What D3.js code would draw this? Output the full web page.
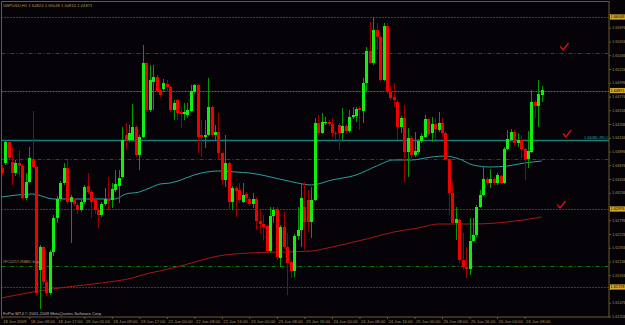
<!DOCTYPE html>
<html><head><meta charset="utf-8">
<script src="https://cdn.jsdelivr.net/npm/d3@7/dist/d3.min.js"></script>
<style>html,body{margin:0;padding:0;background:#050308;overflow:hidden}svg{display:block}</style>
</head><body><svg id="c" width="625" height="325"></svg>
<script>
// ---------------- DATA ----------------
const symbolTitle = "GBPUSD,H1  1.64824 1.65048 1.64810 1.64871";
const copyrightText = "FxPro MT4 \u00a9 2001-2009 MetaQuotes Software Corp.";

const openP = [
1.63632,1.63712,1.64048,1.63728,1.63552,1.63712,1.63664,1.63152,1.63408,1.63776,
1.63648,1.62000,1.62368,1.61808,1.61632,1.62288,1.62832,1.63136,1.63392,1.63632,
1.63088,1.63120,1.63040,1.62960,1.63088,1.63344,1.63248,1.63136,1.62960,1.62880,
1.63056,1.63136,1.63120,1.63280,1.63344,1.63488,1.64160,1.64080,1.64080,1.64288,
1.63840,1.64128,1.65312,1.64560,1.65008,1.65088,1.64880,1.64896,1.64976,1.64928,
1.64560,1.64720,1.64528,1.64496,1.64480,1.64544,1.64848,1.64960,1.64160,1.64128,
1.64160,1.64608,1.64160,1.64208,1.63872,1.63440,1.63712,1.63088,1.63312,1.63280,
1.63088,1.63216,1.63136,1.63056,1.63136,1.62784,1.62736,1.62704,1.62304,1.62864,
1.62976,1.62192,1.62688,1.62368,1.62128,1.61984,1.62544,1.62640,1.63008,1.63120,
1.62768,1.63120,1.64352,1.64192,1.64352,1.64368,1.64336,1.64192,1.64320,1.64192,
1.64304,1.64224,1.64448,1.64464,1.64592,1.64544,1.64992,1.65504,1.65312,1.65840,
1.65728,1.65040,1.65904,1.64848,1.64768,1.64688,1.64288,1.64432,1.63888,1.64112,
1.63840,1.63888,1.64064,1.64128,1.64416,1.64192,1.64336,1.64240,1.64352,1.64192,
1.63776,1.63232,1.62752,1.62800,1.62160,1.62048,1.62016,1.62464,1.62560,1.63008,
1.63200,1.63456,1.63392,1.63456,1.63392,1.63504,1.63392,1.63936,1.64080,1.64208,
1.64032,1.64080,1.63936,1.63776,1.63888,1.64688,1.64624,1.64800];

const highP = [
1.63680,1.64080,1.64064,1.63952,1.63760,1.63920,1.63696,1.63552,1.63968,1.64544,
1.63664,1.62400,1.62384,1.61840,1.62320,1.62880,1.63184,1.63424,1.63712,1.63760,
1.63200,1.63152,1.63072,1.63120,1.63360,1.63552,1.63280,1.63168,1.62992,1.63088,
1.63312,1.63488,1.63392,1.63600,1.63600,1.64288,1.64352,1.64320,1.64656,1.64320,
1.64160,1.65600,1.65328,1.65280,1.65280,1.65120,1.64912,1.65056,1.65040,1.64944,
1.64720,1.64736,1.64608,1.64672,1.64672,1.64960,1.64976,1.64976,1.64400,1.64400,
1.65072,1.64624,1.64320,1.64512,1.63888,1.64160,1.63728,1.63344,1.63344,1.63392,
1.63392,1.63248,1.63168,1.63232,1.63168,1.62960,1.62880,1.62720,1.63008,1.63008,
1.63008,1.62720,1.62928,1.62592,1.62160,1.62576,1.63008,1.63392,1.63408,1.63280,
1.63328,1.64432,1.64480,1.64512,1.64448,1.64400,1.64432,1.64224,1.64352,1.64592,
1.64336,1.64560,1.64608,1.64608,1.64624,1.65072,1.65568,1.65968,1.66048,1.65952,
1.65744,1.65952,1.65952,1.64960,1.64992,1.64720,1.64464,1.64640,1.64272,1.64144,
1.64208,1.64096,1.64192,1.64480,1.64432,1.64448,1.64432,1.64528,1.64432,1.64208,
1.63792,1.63408,1.63008,1.62832,1.62592,1.62368,1.62832,1.62832,1.63040,1.63280,
1.63664,1.63488,1.63616,1.63488,1.63552,1.63520,1.63968,1.64240,1.64256,1.64240,
1.64192,1.64160,1.63952,1.64224,1.64880,1.64720,1.65040,1.64944];

const lowP = [
1.63520,1.63680,1.63760,1.63360,1.63504,1.63488,1.63136,1.63120,1.63392,1.63632,
1.61584,1.61376,1.61760,1.61584,1.61600,1.62224,1.62752,1.63104,1.63360,1.63056,
1.62432,1.63024,1.62896,1.62928,1.63056,1.63216,1.62832,1.62896,1.62672,1.62848,
1.63024,1.62960,1.62992,1.63248,1.63072,1.63472,1.63920,1.64048,1.64064,1.63808,
1.63600,1.64112,1.64528,1.64528,1.64560,1.64832,1.64768,1.64848,1.64848,1.64528,
1.64400,1.64400,1.64272,1.64400,1.64432,1.64528,1.64816,1.63872,1.63808,1.63952,
1.64144,1.64128,1.64080,1.63760,1.63360,1.63328,1.62960,1.62960,1.62848,1.63072,
1.63072,1.63072,1.63024,1.62992,1.62640,1.62592,1.62480,1.62256,1.62272,1.62752,
1.62160,1.62048,1.62336,1.61600,1.61872,1.61888,1.62480,1.62368,1.62320,1.62608,
1.62512,1.63104,1.64160,1.64176,1.64320,1.64304,1.64128,1.64080,1.63920,1.64080,
1.64192,1.64192,1.64416,1.64368,1.64240,1.64352,1.64848,1.65296,1.65280,1.65520,
1.65008,1.65024,1.64816,1.64720,1.64608,1.64080,1.64192,1.63408,1.63488,1.63760,
1.63808,1.63856,1.64032,1.64112,1.64144,1.64048,1.64080,1.64208,1.64128,1.63760,
1.62880,1.62736,1.62480,1.62112,1.62000,1.61872,1.61920,1.62448,1.62528,1.62992,
1.63184,1.63360,1.63312,1.63360,1.63360,1.63376,1.63376,1.63920,1.64064,1.64000,
1.63968,1.63792,1.63440,1.63632,1.63872,1.64432,1.64288,1.64688];

const closeP = [
1.63552,1.64048,1.63792,1.63552,1.63712,1.63664,1.63152,1.63408,1.63792,1.63648,
1.61632,1.62368,1.61808,1.61632,1.62288,1.62832,1.63136,1.63392,1.63632,1.63088,
1.63168,1.63056,1.62960,1.63088,1.63328,1.63248,1.63088,1.62960,1.62880,1.63056,
1.63136,1.63104,1.63296,1.63376,1.63472,1.64080,1.64080,1.64192,1.64288,1.63840,
1.64128,1.65312,1.64560,1.65040,1.65088,1.64864,1.64800,1.64992,1.64928,1.64560,
1.64672,1.64512,1.64496,1.64528,1.64560,1.64864,1.64960,1.64128,1.64128,1.64160,
1.64608,1.64160,1.64208,1.63872,1.63440,1.63712,1.63088,1.63312,1.63264,1.63120,
1.63200,1.63152,1.63056,1.63136,1.62784,1.62736,1.62688,1.62304,1.62864,1.62960,
1.62208,1.62688,1.62368,1.62112,1.61984,1.62544,1.62640,1.63152,1.62768,1.62768,
1.63120,1.64352,1.64192,1.64368,1.64368,1.64336,1.64192,1.64176,1.64192,1.64304,
1.64224,1.64448,1.64480,1.64576,1.64560,1.64992,1.65504,1.65312,1.65840,1.65728,
1.65040,1.65904,1.64848,1.64752,1.64720,1.64288,1.64432,1.63888,1.64112,1.63840,
1.63904,1.64064,1.64144,1.64416,1.64176,1.64336,1.64256,1.64352,1.64192,1.63776,
1.63232,1.62752,1.62816,1.62160,1.62048,1.62016,1.62464,1.62560,1.63008,1.63200,
1.63456,1.63392,1.63456,1.63392,1.63520,1.63392,1.63936,1.64096,1.64208,1.64032,
1.64080,1.63936,1.63776,1.63904,1.64688,1.64624,1.64816,1.64880];

// moving averages (bar index, value)
const maTealBars = [0,9,15,25,33,36,40,43,46,49,58,63,68,72,82,86,90,96,103,109,114,119,125,129,133,137,142,147,152,157];
const maTealVals = [1.63168,1.63216,1.63136,1.63136,1.63136,1.63216,1.63248,1.63312,1.63376,1.63392,1.63552,1.63584,1.63568,1.63552,1.63440,1.63392,1.63360,1.63440,1.63520,1.63664,1.63760,1.63760,1.63808,1.63824,1.63776,1.63680,1.63648,1.63664,1.63712,1.63744];
const maRedBars = [0,9,19,29,38,43,46,53,63,72,82,90,96,106,114,121,127,133,137,147,157];
const maRedVals = [1.61552,1.61648,1.61728,1.61792,1.61872,1.61952,1.61984,1.62080,1.62224,1.62272,1.62288,1.62304,1.62368,1.62496,1.62608,1.62672,1.62736,1.62736,1.62736,1.62768,1.62848];

// horizontal levels
const levelPrices = [1.66048, 1.65472, 1.64871, 1.64080, 1.63776, 1.62976, 1.62070, 1.61728];
const tealLevelLabel = "1.64080 JRLC";
const greenLevelLabel = "#FC0257-RBBD buy";

// check-mark symbols (bar position, price)
const checkBars = [163.2, 164.0, 162.3];
const checkPrices = [1.65520, 1.64128, 1.62992];

// axis labels
const priceTicks = [1.66096,1.65876,1.65656,1.65436,1.65216,1.64996,1.64776,1.64556,1.64336,1.64116,1.63896,1.63676,1.63456,1.63236,1.63016,1.62796,1.62576,1.62356,1.62136,1.61916,1.61696,1.61476,1.61256];
const timeLabelBars = [0,8,16,24,32,40,48,56,64,72,80,88,96,104,112,120,128,136,144,152];
const timeLabels = ["18 Jun 2009","18 Jun 09:00","18 Jun 17:00","19 Jun 01:00","19 Jun 09:00","19 Jun 17:00","22 Jun 00:00","22 Jun 08:00","22 Jun 16:00","23 Jun 00:00","23 Jun 08:00","23 Jun 16:00","24 Jun 00:00","24 Jun 08:00","24 Jun 16:00","25 Jun 00:00","25 Jun 08:00","25 Jun 16:00","26 Jun 00:00","26 Jun 08:00"];

// ---------------- DRAW ----------------
const svg = d3.select("#c");
const FONT = "'Liberation Sans', Arial, sans-serif";
const AX = "#a89058", FRAME = "#6e5c24";
const L = 1.5, T = 1.5, R = 609, B = 317;

svg.append("rect").attr("width",625).attr("height",325).attr("fill","#050308");

const x = d3.scaleLinear().domain([0,157]).range([1.7, 1.7 + 3.44*157]);
const y = d3.scaleLinear().domain([1.61256, 1.66096]).range([316.5, 14]);

svg.append("defs").append("clipPath").attr("id","plot")
  .append("rect").attr("x",L).attr("y",T).attr("width",R-L).attr("height",B-T);
const g = svg.append("g").attr("clip-path","url(#plot)");

// level lines
const levelStyle = [
  {c:"#8a7a30", w:1, d:"1,2"},
  {c:"#a01414", w:1, d:"4,2,1,2"},
  {c:"#5b6a5b", w:1, d:"2,1"},
  {c:"#1c7d7d", w:1.6, d:null},
  {c:"#a01414", w:1, d:"4,2,1,2"},
  {c:"#8a7a30", w:1, d:"1,2"},
  {c:"#127a12", w:1, d:"4,2,1,2"},
  {c:"#8a7a30", w:1, d:"1,2"}
];
levelPrices.forEach((p,i)=>{
  const s = levelStyle[i];
  g.append("line").attr("x1",L).attr("x2",R).attr("y1",Math.round(y(p))+0.5).attr("y2",Math.round(y(p))+0.5)
   .attr("stroke",s.c).attr("stroke-width",s.w).attr("stroke-dasharray",s.d);
});

// moving averages
const lineGen = d3.line().x(d=>x(d[0])).y(d=>y(d[1])).curve(d3.curveMonotoneX);
g.append("path").attr("d", lineGen(maRedBars.map((b,i)=>[b,maRedVals[i]])))
  .attr("fill","none").attr("stroke","#a41818").attr("stroke-width",1);
g.append("path").attr("d", lineGen(maTealBars.map((b,i)=>[b,maTealVals[i]])))
  .attr("fill","none").attr("stroke","#2aa0a0").attr("stroke-width",1);

// candles
const bars = d3.range(openP.length).map(i=>({i,o:openP[i],h:highP[i],l:lowP[i],c:closeP[i]}));
const cg = g.append("g");
cg.selectAll("line.w").data(bars).enter().append("line")
  .attr("x1",d=>Math.round(x(d.i))+0.5).attr("x2",d=>Math.round(x(d.i))+0.5)
  .attr("y1",d=>y(d.h)).attr("y2",d=>y(d.l))
  .attr("stroke",d=>d.c>=d.o?"#009a00":"#9a0000").attr("stroke-width",1);
cg.selectAll("rect.b").data(bars).enter().append("rect")
  .attr("x",d=>Math.round(x(d.i))-1).attr("width",3)
  .attr("y",d=>y(Math.max(d.o,d.c)))
  .attr("height",d=>Math.max(1, Math.abs(y(d.o)-y(d.c))))
  .attr("fill",d=>d.c>=d.o?"#10f010":"#f00000");

// check marks
checkBars.forEach((b,i)=>{
  const cx = x(b), cy = y(checkPrices[i]);
  g.append("path").attr("d",`M${cx-2.8},${cy-3.5} L${cx},${cy} L${cx+5.5},${cy-7}`)
   .attr("fill","none").attr("stroke","#e01010").attr("stroke-width",1.3);
});

// level labels inside plot
g.append("text").attr("x",584).attr("y",y(levelPrices[3])-1.5).text(tealLevelLabel)
  .attr("font-family",FONT).attr("font-size",3.8).attr("fill","#2aa0a0");
g.append("text").attr("x",2.5).attr("y",y(levelPrices[6])-2.5).text(greenLevelLabel)
  .attr("font-family",FONT).attr("font-size",4).attr("fill",AX);

// frame
svg.append("rect").attr("x",L).attr("y",T).attr("width",R-L).attr("height",B-T)
  .attr("fill","none").attr("stroke",FRAME).attr("stroke-width",1);

// right axis (labels hidden where a highlighted price box covers them)
const boxed = [0,2,5,7].map(k=>levelPrices[k]);
const ya = svg.append("g").attr("transform",`translate(${R},0)`)
  .call(d3.axisRight(y).tickValues(priceTicks).tickSize(2).tickPadding(1)
    .tickFormat(v => boxed.some(p=>Math.abs(y(p)-y(v))<5) ? "" : d3.format(".5f")(v)));
ya.select(".domain").remove();
ya.selectAll("line").attr("stroke",FRAME);
ya.selectAll("text").attr("font-family",FONT).attr("font-size",3.8).attr("fill",AX);

// highlighted price boxes on right axis
boxed.forEach(p=>{
  const py = y(p);
  svg.append("rect").attr("x",R+1).attr("y",py-2.6).attr("width",15).attr("height",5.2).attr("fill","#d4a82c");
  svg.append("text").attr("x",R+1.6).attr("y",py+1.4).text(p.toFixed(5))
    .attr("font-family",FONT).attr("font-size",3.8).attr("fill","#000");
});

// bottom axis
const xa = svg.append("g").attr("transform",`translate(0,${B})`)
  .call(d3.axisBottom(x).tickValues(timeLabelBars).tickSize(2).tickPadding(1.5).tickFormat((d,i)=>timeLabels[i]));
xa.select(".domain").remove();
xa.selectAll("line").attr("stroke",FRAME);
xa.selectAll("text").attr("font-family",FONT).attr("font-size",4.2).attr("fill",AX)
  .attr("text-anchor","start").attr("dx",1);

// title & copyright
svg.append("text").attr("x",3).attr("y",6.5).text(symbolTitle)
  .attr("font-family",FONT).attr("font-size",4.2).attr("fill",AX);
svg.append("text").attr("x",3).attr("y",314.5).text(copyrightText)
  .attr("font-family",FONT).attr("font-size",4.2).attr("fill","#b8b8b8");
</script>
</body></html>
